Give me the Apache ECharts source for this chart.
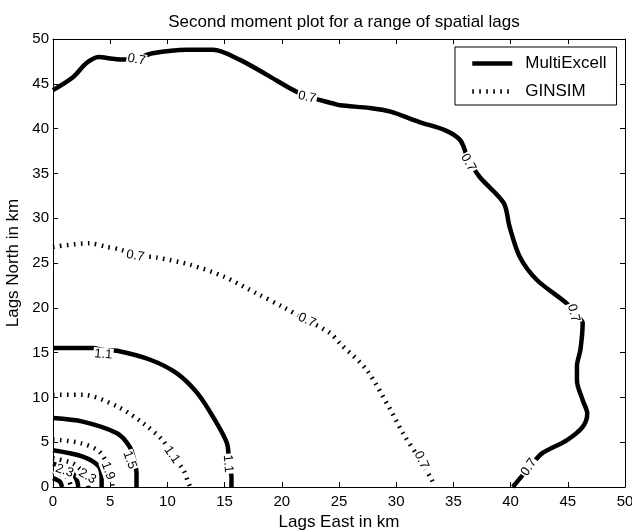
<!DOCTYPE html>
<html>
<head>
<meta charset="utf-8">
<script src="https://cdn.jsdelivr.net/npm/echarts@6/dist/echarts.min.js"></script>
<style>
  html, body { margin: 0; padding: 0; background: #fff; }
  #chart { width: 632px; height: 532px; }
</style>
</head>
<body>
<div id="chart"></div>
<script>
// axis ticks
var xTicks = [0, 5, 10, 15, 20, 25, 30, 35, 40, 45, 50];
var yTicks = [0, 5, 10, 15, 20, 25, 30, 35, 40, 45, 50];

// MultiExcell contours (solid)
var me07 = [[0,44.3],[1.8,45.8],[2.9,47.3],[4.0,48.0],[5.2,47.8],[6.4,47.7],[7.3,47.8],[8.7,48.4],[11.7,48.8],[14.0,48.8],
  [16.3,47.7],[18.7,46.0],[21.0,44.3],[22.2,43.6],[24.5,42.8],[25.1,42.6],[27.7,42.3],[29.5,41.9],[32.1,40.7],[34.3,39.8],
  [35.6,38.7],[36.3,36.6],[37.3,34.6],[39.4,31.7],[39.9,29.1],[40.8,25.7],[42.3,23.1],[44.9,20.5],[45.5,19.4],[46.3,18.3],
  [46.1,15.3],[45.8,13.5],[45.8,11.9],[46.3,9.7],[46.7,8.2],[46.3,6.7],[44.9,5.2],[42.8,3.8],[41.7,2.3],[40.2,0]];
var me11 = [[0,15.5],[3.5,15.5],[4.4,15.3],[5.6,15.2],[8.5,14.2],[10.8,12.7],[12.6,10.5],[14.0,7.8],[15.2,4.9],[15.4,2.6],[15.6,1.1],[15.6,0]];
var me15 = [[0,7.7],[2.6,7.3],[5.6,6.0],[6.7,4.5],[7.1,3.0],[7.3,1.5],[7.3,0]];
var me19 = [[0,4.1],[2.6,3.4],[4.0,2.3],[4.25,0.8],[4.25,0]];
var me23 = [[0,2.6],[1.5,1.9],[2.1,0.7],[2.2,0]];
var me27 = [[0,1.0],[0.6,0.6],[0.8,0]];

// GINSIM contours (dotted)
var gi07 = [[0,26.8],[3.2,27.2],[4.7,26.8],[5.9,26.5],[7.2,25.9],[9.1,25.6],[12.0,24.8],[14.9,23.5],[17.8,21.6],[20.1,20.1],
  [22.2,18.6],[24.2,17.2],[25.1,16.0],[27.4,13.1],[29.2,9.3],[30.6,6.0],[32.1,3.0],[33.1,0.8],[33.3,0]];
var gi11 = [[0,10.3],[2.6,10.3],[5.6,9.0],[7.9,7.1],[9.6,5.2],[10.4,3.6],[11.4,1.9],[11.8,0.6],[12.0,0]];
var gi15 = [[0,5.3],[2.4,4.9],[4.1,3.9],[5.0,1.6],[5.2,0]];
var gi19 = [[0,3.2],[1.8,2.6],[2.9,1.2],[3.1,0]];
var gi23 = [[0,1.7],[1.2,1.1],[1.6,0]];

// contour labels [x, y, text]
var labelPts = [[7.3,47.7,'0.7'],[22.2,43.5,'0.7'],[36.3,36.2,'0.7'],[45.5,19.4,'0.7'],[41.6,2.2,'0.7'],
  [4.4,14.8,'1.1'],[15.3,2.6,'1.1'],[6.7,3.0,'1.5'],
  [7.2,25.8,'0.7'],[22.2,18.6,'0.7'],[32.2,3.0,'0.7'],[10.4,3.6,'1.1'],
  [4.8,1.8,'1.9'],[3.0,1.2,'2.3'],[1.0,1.8,'2.3']];
var labelAngles = [-10, -12, -60, -75, 55, -5, -85, -70, -10, -25, -65, -55, -70, -30, -20];

var solidLines = [me07, me11, me15, me19, me23, me27];
var dottedLines = [gi07, gi11, gi15, gi19, gi23];

var font = 'Liberation Sans, Arial, sans-serif';

var series = [];
solidLines.forEach(function(d) {
  series.push({
    name: 'MultiExcell', type: 'line', data: d, smooth: 0.3, symbol: 'none',
    itemStyle: { color: '#000' },
    lineStyle: { color: '#000', width: 4.5 }, z: 2
  });
});
dottedLines.forEach(function(d) {
  series.push({
    name: 'GINSIM', type: 'line', data: d, smooth: 0.3, symbol: 'none',
    itemStyle: { color: '#000' },
    lineStyle: { color: '#000', width: 4.5, type: [1.6, 5.4], cap: 'butt' }, z: 2
  });
});
series.push({
  type: 'scatter', symbolSize: 1, z: 5, silent: true,
  itemStyle: { color: '#fff', opacity: 1 },
  data: labelPts.map(function(p, i) {
    return { value: p, label: { rotate: labelAngles[i] } };
  }),
  label: {
    show: true, position: 'inside', color: '#000', fontSize: 13, fontFamily: font,
    textBorderWidth: 0, backgroundColor: '#fff', padding: [0, 1],
    formatter: function(p) { return p.value[2]; }
  }
});

var tickAxis = {
  type: 'value', min: 0, max: 50, interval: 5,
  axisLine: { show: true, onZero: false, lineStyle: { color: '#000', width: 1 } },
  axisTick: { show: true, inside: true, length: 5, lineStyle: { color: '#000' } },
  splitLine: { show: false }
};

var option = {
  backgroundColor: '#fff',
  animation: false,
  title: {
    text: 'Second moment plot for a range of spatial lags',
    left: 339, top: 9, textAlign: 'center',
    textStyle: { fontSize: 17, fontWeight: 'normal', color: '#000', fontFamily: font }
  },
  legend: {
    left: 455, top: 47, orient: 'vertical',
    data: ['MultiExcell', 'GINSIM'],
    itemWidth: 40, itemHeight: 14, itemGap: 11,
    padding: [8, 10, 5, 15],
    borderColor: '#000', borderWidth: 1, backgroundColor: '#fff',
    itemStyle: { opacity: 0 },
    lineStyle: { width: 4.5 },
    textStyle: { fontSize: 17, color: '#000', fontFamily: font, padding: [0, 0, 0, 8] }
  },
  grid: { left: 53, right: 7, top: 39, bottom: 45, containLabel: false, outerBoundsMode: 'none' },
  xAxis: [
    Object.assign({}, tickAxis, {
      position: 'bottom',
      name: 'Lags East in km', nameLocation: 'middle', nameGap: 19,
      nameTextStyle: { fontSize: 17, color: '#000', fontFamily: font },
      axisLabel: { color: '#000', fontSize: 15, fontFamily: font, margin: 7,
        formatter: function(v) { return xTicks.indexOf(v) >= 0 ? v : ''; } }
    }),
    Object.assign({}, tickAxis, { position: 'top', axisLabel: { show: false } })
  ],
  yAxis: [
    Object.assign({}, tickAxis, {
      position: 'left',
      name: 'Lags North in km', nameLocation: 'middle', nameGap: 29,
      nameTextStyle: { fontSize: 17, color: '#000', fontFamily: font },
      axisLabel: { color: '#000', fontSize: 15, fontFamily: font, margin: 4,
        formatter: function(v) { return yTicks.indexOf(v) >= 0 ? v : ''; } }
    }),
    Object.assign({}, tickAxis, { position: 'right', axisLabel: { show: false } })
  ],
  series: series
};

var myChart = echarts.init(document.getElementById('chart'));
myChart.setOption(option);
</script>
</body>
</html>
